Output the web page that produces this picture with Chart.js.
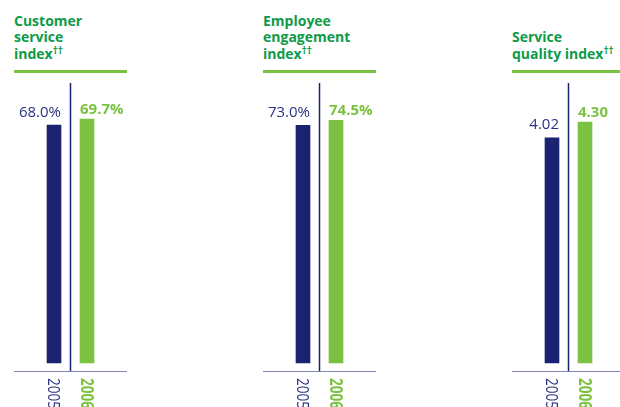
<!DOCTYPE html>
<html>
<head>
<meta charset="utf-8">
<script src="https://cdn.jsdelivr.net/npm/chart.js@4/dist/chart.umd.min.js"></script>
<style>
  html, body { margin: 0; padding: 0; background: #fff; overflow: hidden; }
  body { width: 620px; height: 407px; position: relative; font-family: "Open Sans", sans-serif; }
  .title {
    position: absolute; top: 0; height: 62px; width: 130px;
    display: flex; align-items: flex-end; white-space: nowrap;
    color: #0e9a48; font-weight: 700; font-size: 14px; line-height: 16.5px;
  }
  .title sup { font-size: 10px; line-height: 0; vertical-align: 5px; }
  .rule { position: absolute; top: 70px; height: 3px; width: 113px; background: #7cc242; }
  canvas { position: absolute; top: 75px; }
</style>
</head>
<body>
<div class="title" style="left:14px"><div>Customer<br>service<br>index<sup>††</sup></div></div>
<div class="title" style="left:263px"><div>Employee<br>engagement<br>index<sup>††</sup></div></div>
<div class="title" style="left:512px"><div>Service<br>quality index<sup>††</sup></div></div>
<div class="rule" style="left:14px"></div>
<div class="rule" style="left:263px"></div>
<div class="rule" style="left:512px"></div>
<canvas id="chart-customer" width="113" height="332" style="left:14px"></canvas>
<canvas id="chart-employee" width="113" height="332" style="left:263px"></canvas>
<canvas id="chart-quality" width="113" height="332" style="left:512px"></canvas>
<script>
const years = ['2005', '2006'];
const customerService = [68.0, 69.7];
const employeeEngagement = [73.0, 74.5];
const serviceQuality = [4.02, 4.30];
const axisMax = [80, 86, 5];

const NAVY = '#1b2271';
const NAVY_TEXT = '#2b3282';
const GREEN = '#7cc242';
const BASELINE = '#8086b8';

const panelDecor = {
  id: 'panelDecor',
  afterDatasetsDraw(chart, args, opts) {
    const ctx = chart.ctx;
    const a = chart.chartArea;
    const x = chart.scales.x;
    ctx.save();

    // divider between the two years
    const mid = (x.getPixelForValue(0) + x.getPixelForValue(1)) / 2;
    ctx.strokeStyle = NAVY;
    ctx.lineWidth = 1.5;
    ctx.beginPath();
    ctx.moveTo(mid, a.top);
    ctx.lineTo(mid, a.bottom);
    ctx.stroke();

    // baseline across the whole panel
    ctx.strokeStyle = BASELINE;
    ctx.lineWidth = 1;
    ctx.beginPath();
    ctx.moveTo(0, a.bottom + 0.5);
    ctx.lineTo(chart.width, a.bottom + 0.5);
    ctx.stroke();

    // value labels
    const values = chart.data.datasets[0].data;
    chart.getDatasetMeta(0).data.forEach((bar, i) => {
      const text = values[i].toFixed(opts.decimals) + opts.suffix;
      const half = bar.width / 2;
      ctx.textBaseline = 'alphabetic';
      if (i === 0) {
        ctx.font = '400 15px "Open Sans"';
        ctx.fillStyle = NAVY_TEXT;
        ctx.textAlign = 'right';
        ctx.fillText(text, bar.x + half, bar.y - 8.5);
      } else {
        ctx.font = '700 15px "Open Sans"';
        ctx.fillStyle = GREEN;
        ctx.textAlign = 'left';
        ctx.fillText(text, bar.x - half, bar.y - 5.5);
      }
    });

    // year labels, rotated to read downward, slightly condensed
    chart.data.labels.forEach((label, i) => {
      const px = x.getPixelForValue(i);
      ctx.save();
      ctx.translate(px, a.bottom + 7);
      ctx.rotate(Math.PI / 2);
      ctx.scale(0.8, 1);
      ctx.textAlign = 'left';
      ctx.textBaseline = 'middle';
      ctx.font = i === 0 ? '400 17px "Open Sans"' : '700 17px "Open Sans"';
      ctx.fillStyle = i === 0 ? NAVY_TEXT : GREEN;
      ctx.fillText(label, 0, 1);
      ctx.restore();
    });

    ctx.restore();
  },
};

const renderPanel = (id, values, max, decimals, suffix) => {
  const canvas = document.getElementById(id);
  new Chart(canvas.getContext('2d'), {
    type: 'bar',
    data: {
      labels: years,
      datasets: [{
        data: values,
        backgroundColor: [NAVY, GREEN],
        borderWidth: 0,
        barThickness: 14,
      }],
    },
    options: {
      responsive: false,
      animation: false,
      layout: { padding: { top: 8, bottom: 36, left: 23.5, right: 23.5 } },
      plugins: {
        legend: { display: false },
        tooltip: { enabled: false },
        panelDecor: { decimals, suffix },
      },
      scales: {
        x: { display: false, offset: true },
        y: { display: false, min: -max / 35, max },
      },
    },
    plugins: [panelDecor],
  });
};

renderPanel('chart-customer', customerService, axisMax[0], 1, '%');
renderPanel('chart-employee', employeeEngagement, axisMax[1], 1, '%');
renderPanel('chart-quality', serviceQuality, axisMax[2], 2, '');
</script>
</body>
</html>
